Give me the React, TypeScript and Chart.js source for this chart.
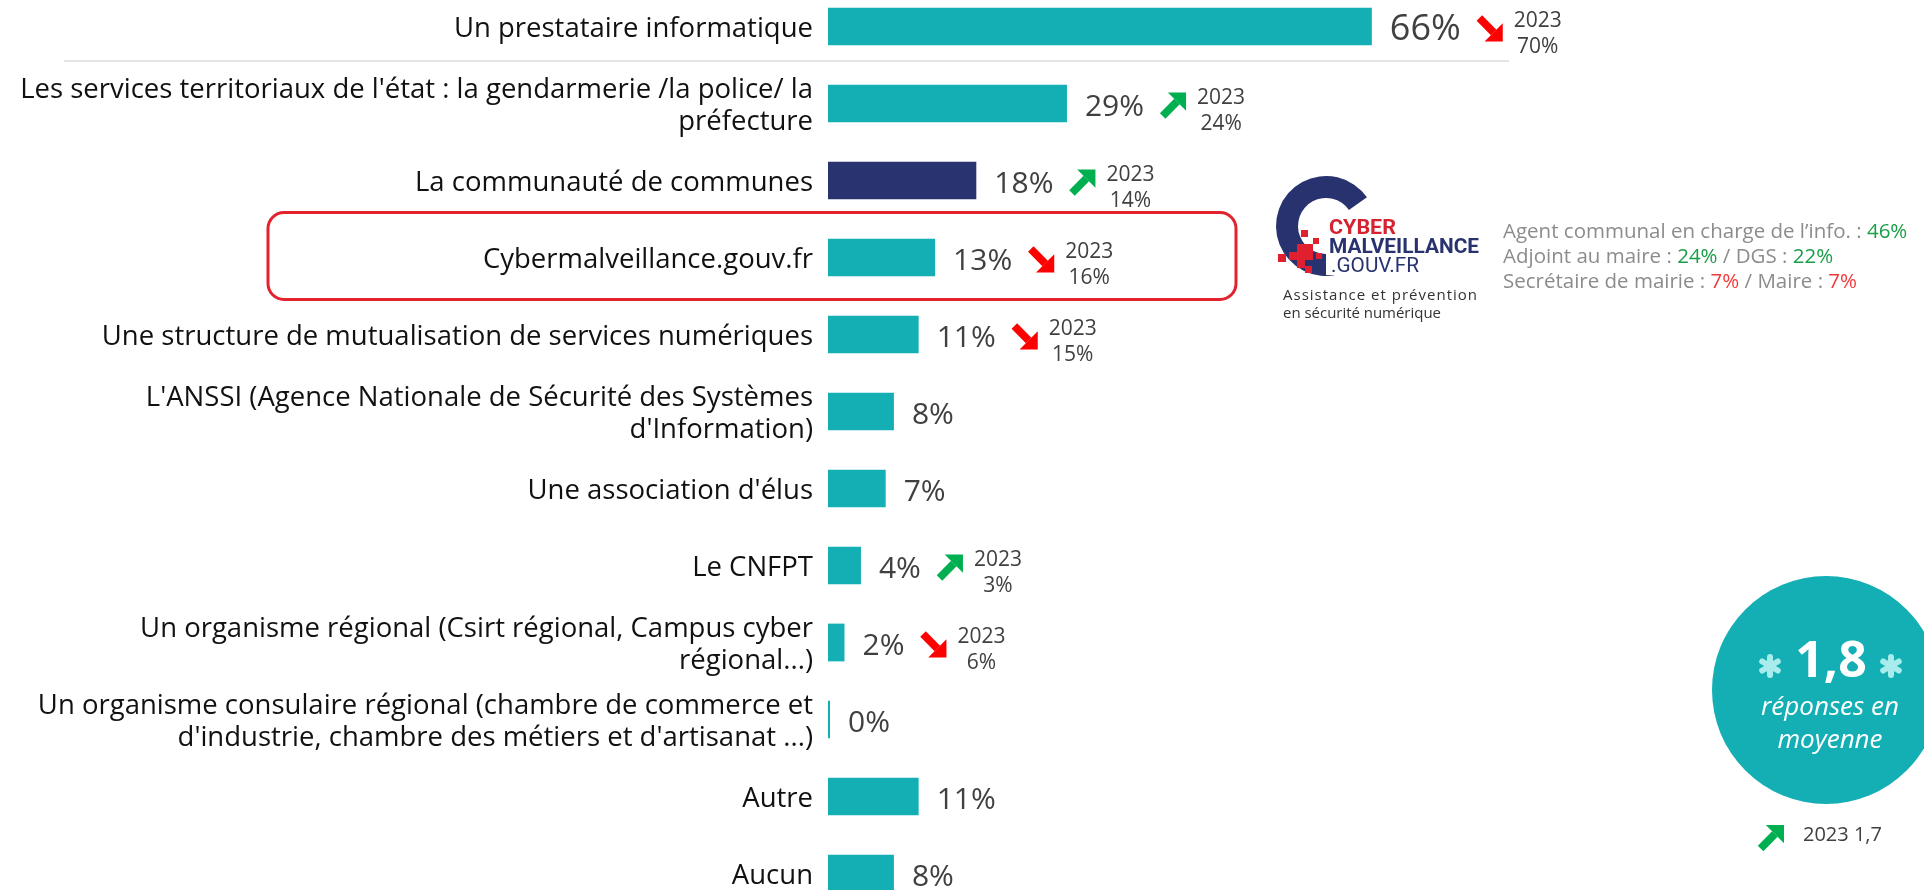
import React, { useEffect, useRef } from "react";
import { Chart, registerables } from "chart.js";

Chart.register(...registerables);

// ---------- data ----------
const categories: (string | string[])[] = [
  "Un prestataire informatique",
  ["Les services territoriaux de l'état : la gendarmerie /la police/ la", "préfecture"],
  "La communauté de communes",
  "Cybermalveillance.gouv.fr",
  "Une structure de mutualisation de services numériques",
  ["L'ANSSI (Agence Nationale de Sécurité des Systèmes", "d'Information)"],
  "Une association d'élus",
  "Le CNFPT",
  ["Un organisme régional (Csirt régional, Campus cyber", "régional...)"],
  ["Un organisme consulaire régional (chambre de commerce et", "d'industrie, chambre des métiers et d'artisanat ...)"],
  "Autre",
  "Aucun",
];
const values2024: number[] = [66, 29, 18, 13, 11, 8, 7, 4, 2, 0, 11, 8];
const values2023: (number | null)[] = [70, 24, 14, 16, 15, null, null, 3, 6, null, null, null];
const highlightIndex = 2;
const boxedIndex = 3;
const previousYear = "2023";
const averageNow = "1,8";
const averagePrev = "1,7";

const TEAL = "#14afb5";
const NAVY = "#29336f";
const GREEN = "#00b050";
const RED = "#ff0000";
const TEXT_SHIFT = 2.5;

function drawArrow(ctx: CanvasRenderingContext2D, x0: number, y0: number, s: number, up: boolean, color: string) {
  ctx.save();
  ctx.fillStyle = color;
  ctx.strokeStyle = color;
  ctx.beginPath();
  if (up) {
    ctx.moveTo(x0 + 0.3 * s, y0);
    ctx.lineTo(x0 + s, y0);
    ctx.lineTo(x0 + s, y0 + 0.7 * s);
  } else {
    ctx.moveTo(x0 + s, y0 + 0.3 * s);
    ctx.lineTo(x0 + s, y0 + s);
    ctx.lineTo(x0 + 0.3 * s, y0 + s);
  }
  ctx.closePath();
  ctx.fill();
  ctx.lineWidth = 0.3 * s;
  ctx.lineCap = "butt";
  ctx.beginPath();
  if (up) {
    ctx.moveTo(x0 + 0.1 * s, y0 + 0.9 * s);
    ctx.lineTo(x0 + 0.65 * s, y0 + 0.35 * s);
  } else {
    ctx.moveTo(x0 + 0.1 * s, y0 + 0.1 * s);
    ctx.lineTo(x0 + 0.65 * s, y0 + 0.65 * s);
  }
  ctx.stroke();
  ctx.restore();
}

const annotPlugin = {
  id: "annot",
  beforeDatasetsDraw(chart: any) {
    const ctx: CanvasRenderingContext2D = chart.ctx;
    const y = chart.scales.y;
    const sepY = (y.getPixelForValue(0) + y.getPixelForValue(1)) / 2 - 4;
    ctx.save();
    ctx.strokeStyle = "#e4e4e4";
    ctx.lineWidth = 2;
    ctx.beginPath();
    ctx.moveTo(64, sepY);
    ctx.lineTo(1509, sepY);
    ctx.stroke();
    const by = y.getPixelForValue(boxedIndex);
    ctx.strokeStyle = "#e2222e";
    ctx.lineWidth = 3;
    ctx.beginPath();
    (ctx as any).roundRect(268, by - 45, 968, 87, 16);
    ctx.stroke();
    ctx.restore();
  },
  afterDatasetsDraw(chart: any) {
    const ctx: CanvasRenderingContext2D = chart.ctx;
    const meta = chart.getDatasetMeta(0);
    ctx.save();
    meta.data.forEach((bar: any, i: number) => {
      const v = values2024[i];
      const size = i === 0 ? 36 : 30;
      ctx.font = `${size}px "Open Sans"`;
      ctx.fillStyle = "#404040";
      ctx.textAlign = "left";
      ctx.textBaseline = "middle";
      const x = bar.x + 18;
      const cy = bar.y + TEXT_SHIFT;
      const txt = `${v}%`;
      ctx.fillText(txt, x, cy + 1);
      const w = ctx.measureText(txt).width;
      const prev = values2023[i];
      if (prev === null || prev === undefined) return;
      const s = 26;
      const ax = x + w + 16;
      const up = prev < v;
      drawArrow(ctx, ax, bar.y - 11, s, up, up ? GREEN : RED);
      ctx.font = '21px "Open Sans"';
      ctx.textAlign = "center";
      ctx.fillStyle = "#404040";
      const tx = ax + s + 12 + 23;
      ctx.fillText(previousYear, tx, cy - 8);
      ctx.fillText(`${prev}%`, tx, cy + 18);
    });
    ctx.restore();
  },
};

function ArrowSvg({ x, y, s, up, color }: { x: number; y: number; s: number; up: boolean; color: string }) {
  const head = up
    ? `${x + 0.3 * s},${y} ${x + s},${y} ${x + s},${y + 0.7 * s}`
    : `${x + s},${y + 0.3 * s} ${x + s},${y + s} ${x + 0.3 * s},${y + s}`;
  return (
    <g>
      <polygon points={head} fill={color} />
      <line
        x1={x + 0.1 * s}
        y1={up ? y + 0.9 * s : y + 0.1 * s}
        x2={x + 0.65 * s}
        y2={up ? y + 0.35 * s : y + 0.65 * s}
        stroke={color}
        strokeWidth={0.3 * s}
      />
    </g>
  );
}

function Asterisk({ cx, cy }: { cx: number; cy: number }) {
  const arms = [90, 30, 150];
  const r = 9;
  return (
    <g stroke="#a8ecec" strokeWidth={6} strokeLinecap="round">
      {arms.map((a) => {
        const rad = (a * Math.PI) / 180;
        return (
          <line key={a} x1={cx - r * Math.cos(rad)} y1={cy - r * Math.sin(rad)} x2={cx + r * Math.cos(rad)} y2={cy + r * Math.sin(rad)} />
        );
      })}
    </g>
  );
}

function Overlay() {
  const cx = 1326, cy = 226, R = 50, r = 28;
  const a0 = (-35 * Math.PI) / 180, a1 = (75 * Math.PI) / 180;
  const p = (rad: number, rr: number) => `${cx + rr * Math.cos(rad)} ${cy + rr * Math.sin(rad)}`;
  const cPath = `M ${p(a0, R)} A ${R} ${R} 0 1 0 ${p(a1, R)} L ${p(a1, r)} A ${r} ${r} 0 1 1 ${p(a0, r)} Z`;
  const squares = [
    [1301, 230, 7, 7], [1313, 238, 6, 6], [1297, 244, 8, 8], [1305, 244, 8, 8], [1289, 252, 8, 8],
    [1297, 252, 16, 8], [1278, 254, 8, 8], [1297, 260, 8, 8], [1305, 266, 7, 7], [1316, 253, 6, 6],
  ];
  const grey = "#8c8c8c", green = "#1a9e48", red = "#f03a3a";
  return (
    <svg width={1924} height={890} style={{ position: "absolute", left: 0, top: 0, pointerEvents: "none" }}>
      {/* logo */}
      <path d={cPath} fill="#27326f" />
      <rect x={1326} y={213} width={160} height={62} fill="#ffffff" />
      {squares.map((q, i) => (
        <rect key={i} x={q[0]} y={q[1]} width={q[2]} height={q[3]} fill="#e0202e" />
      ))}
      <text x={1329} y={234} fontFamily="Roboto" fontWeight={700} fontSize={21} fill="#d52331" textLength={67} lengthAdjust="spacingAndGlyphs">CYBER</text>
      <text x={1329} y={253} fontFamily="Roboto" fontWeight={700} fontSize={21} fill="#27326f" textLength={150} lengthAdjust="spacingAndGlyphs">MALVEILLANCE</text>
      <text x={1331} y={272} fontFamily="Roboto" fontWeight={400} fontSize={20} fill="#27326f" textLength={88} lengthAdjust="spacingAndGlyphs">.GOUV.FR</text>
      <text x={1283} y={300} fontFamily="Open Sans" fontSize={15} fill="#333" textLength={194} lengthAdjust="spacing">Assistance et prévention</text>
      <text x={1283} y={318} fontFamily="Open Sans" fontSize={15} fill="#333" textLength={158} lengthAdjust="spacing">en sécurité numérique</text>

      {/* roles */}
      <g fontFamily="Open Sans" fontSize={20.5}>
        <text x={1503} y={238} fill={grey}>
          Agent communal en charge de l’info. : <tspan fill={green}>46%</tspan>
        </text>
        <text x={1503} y={263} fill={grey}>
          Adjoint au maire : <tspan fill={green}>24%</tspan> / DGS : <tspan fill={green}>22%</tspan>
        </text>
        <text x={1503} y={288} fill={grey}>
          Secrétaire de mairie : <tspan fill={red}>7%</tspan> / Maire : <tspan fill={red}>7%</tspan>
        </text>
      </g>

      {/* average circle */}
      <circle cx={1826} cy={690} r={114} fill={TEAL} />
      <Asterisk cx={1770} cy={666} />
      <Asterisk cx={1891} cy={666} />
      <text x={1831} y={677} textAnchor="middle" fontFamily="Open Sans" fontWeight={700} fontSize={50} fill="#fff">{averageNow}</text>
      <text x={1830} y={715} textAnchor="middle" fontFamily="Open Sans" fontStyle="italic" fontSize={26} fill="#fff">réponses en</text>
      <text x={1830} y={748} textAnchor="middle" fontFamily="Open Sans" fontStyle="italic" fontSize={26} fill="#fff">moyenne</text>

      <ArrowSvg x={1758} y={825} s={26} up={true} color={GREEN} />
      <text x={1803} y={841} fontFamily="Open Sans" fontSize={20} fill="#404040">{`${previousYear} ${averagePrev}`}</text>
    </svg>
  );
}

export default function App() {
  const canvasRef = useRef<HTMLCanvasElement | null>(null);

  useEffect(() => {
    const canvas = canvasRef.current;
    if (!canvas) return;
    const chart = new Chart(canvas, {
      type: "bar",
      data: {
        labels: categories as any,
        datasets: [
          {
            data: values2024,
            backgroundColor: values2024.map((_, i) => (i === highlightIndex ? NAVY : TEAL)),
            barPercentage: 0.49,
            categoryPercentage: 1,
            minBarLength: 2,
          },
        ],
      },
      options: {
        indexAxis: "y",
        responsive: false,
        animation: false,
        devicePixelRatio: 1,
        layout: { padding: { left: 0, right: 272, top: 0, bottom: 0 } },
        plugins: { legend: { display: false }, tooltip: { enabled: false } },
        scales: {
          x: { display: false, min: 0, max: 100 },
          y: {
            grid: { display: false, drawTicks: false },
            border: { display: false },
            ticks: {
              padding: 15,
              labelOffset: TEXT_SHIFT,
              color: "#111111",
              autoSkip: false,
              font: { family: "Open Sans", size: 27.5, lineHeight: 1.16 },
            },
            afterFit: (s: any) => {
              s.width = 828;
              s.paddingTop = 0;
              s.paddingBottom = 0;
            },
          },
        },
      },
      plugins: [annotPlugin],
    } as any);
    return () => chart.destroy();
  }, []);

  return (
    <div
      style={{
        position: "fixed",
        left: 0,
        top: 0,
        width: 1924,
        height: 890,
        overflow: "hidden",
        background: "#ffffff",
      }}
    >
      <canvas
        ref={canvasRef}
        width={1924}
        height={924}
        style={{ position: "absolute", left: 0, top: -12, width: 1924, height: 924, display: "block" }}
      />
      <Overlay />
    </div>
  );
}
